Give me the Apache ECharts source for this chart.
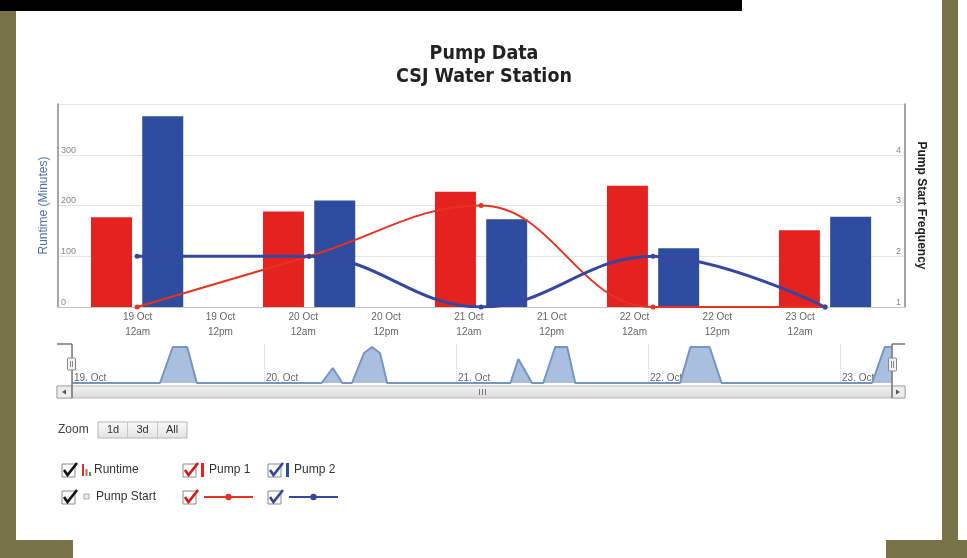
<!DOCTYPE html>
<html>
<head>
<meta charset="utf-8">
<title>Pump Data</title>
<script src="https://cdn.jsdelivr.net/npm/echarts@6/dist/echarts.min.js"></script>
<style>
html, body { margin: 0; padding: 0; }
body { width: 967px; height: 558px; background: #787249; position: relative; overflow: hidden; }
.panel { position: absolute; background: #fff; }
#chart { position: absolute; left: 0; top: 0; width: 967px; height: 558px; }
</style>
</head>
<body>
<div class="panel" style="left:16px;top:0;width:926px;height:540px"></div>
<div class="panel" style="left:73px;top:540px;width:813px;height:18px"></div>
<div class="panel" style="left:958px;top:0;width:9px;height:540px"></div>
<div style="position:absolute;left:0;top:0;width:742px;height:11px;background:#000"></div>
<div id="chart"></div>
<script>
// daily values (bars + start counts)
const days = ['19 Oct', '20 Oct', '21 Oct', '22 Oct', '23 Oct'];
const pump1Runtime = [177, 188, 227, 239, 151];
const pump2Runtime = [376, 210, 173, 116, 178];
const pump1Starts = [1, 2, 3, 1, 1];
const pump2Starts = [2, 2, 1, 2, 1];

// x labels every 12 hours from 19 Oct 12am
const timeLabels = ['19 Oct\n12am', '19 Oct\n12pm', '20 Oct\n12am', '20 Oct\n12pm', '21 Oct\n12am',
  '21 Oct\n12pm', '22 Oct\n12am', '22 Oct\n12pm', '23 Oct\n12am'];
const timeLabelHours = [0, 12, 24, 36, 48, 60, 72, 84, 96];

// navigator runtime (hours since 19 Oct 00:00, minutes running)
const navHours = [0, 11, 12.6, 14.4, 15.6, 31.2, 32.6, 33.8, 35, 36.5, 37.5, 38.5, 39.4,
  54.8, 55.8, 57.5, 58.9, 60.4, 61.9, 62.9, 76, 77.3, 79.7, 81.2, 100, 101.6, 102.5];
const navRuntime = [0, 0, 60, 60, 0, 0, 25, 0, 0, 50, 60, 50, 0,
  0, 40, 0, 0, 60, 60, 0, 0, 60, 60, 0, 0, 60, 60];
const navDayLabels = ['19. Oct', '20. Oct', '21. Oct', '22. Oct', '23. Oct'];

const RED = '#e42320';
const BLUE = '#2f4d9e';
const font = "'Liberation Sans', Arial, sans-serif";

const chart = echarts.init(document.getElementById('chart'));

function checkbox(x, y, color) {
  return [
    { type: 'rect', z: 100, shape: { x: x, y: y, width: 13, height: 13 },
      style: { fill: '#fff', stroke: '#8a8a8a', lineWidth: 1 } },
    { type: 'polyline', z: 101, shape: { points: [[x + 2, y + 6], [x + 5.5, y + 11], [x + 15, y - 1]] },
      style: { stroke: color, lineWidth: 2.6, fill: null } }
  ];
}

const graphics = [
  // navigator outline
  { type: 'line', z: 100, shape: { x1: 57, y1: 344, x2: 72, y2: 344 }, style: { stroke: '#777', lineWidth: 1.5 } },
  { type: 'line', z: 100, shape: { x1: 72, y1: 344, x2: 72, y2: 398 }, style: { stroke: '#777', lineWidth: 1.5 } },
  { type: 'line', z: 100, shape: { x1: 892, y1: 344, x2: 905, y2: 344 }, style: { stroke: '#777', lineWidth: 1.5 } },
  { type: 'line', z: 100, shape: { x1: 892, y1: 344, x2: 892, y2: 398 }, style: { stroke: '#777', lineWidth: 1.5 } },
  // scrollbar
  { type: 'rect', z: 90, shape: { x: 57, y: 386, width: 848, height: 12 },
    style: { fill: new echarts.graphic.LinearGradient(0, 0, 0, 1, [{ offset: 0, color: '#f4f4f4' }, { offset: 1, color: '#dadada' }]), stroke: '#b8b8b8' } },
  { type: 'rect', z: 91, shape: { x: 57, y: 386, width: 15, height: 12 },
    style: { fill: '#ececec', stroke: '#aaa' } },
  { type: 'rect', z: 91, shape: { x: 892, y: 386, width: 13, height: 12 },
    style: { fill: '#ececec', stroke: '#aaa' } },
  { type: 'polygon', z: 92, shape: { points: [[62, 392], [66, 389.5], [66, 394.5]] }, style: { fill: '#555' } },
  { type: 'polygon', z: 92, shape: { points: [[900, 392], [896, 389.5], [896, 394.5]] }, style: { fill: '#555' } },
  { type: 'line', z: 92, shape: { x1: 479.5, y1: 389, x2: 479.5, y2: 395 }, style: { stroke: '#777' } },
  { type: 'line', z: 92, shape: { x1: 482.5, y1: 389, x2: 482.5, y2: 395 }, style: { stroke: '#777' } },
  { type: 'line', z: 92, shape: { x1: 485.5, y1: 389, x2: 485.5, y2: 395 }, style: { stroke: '#777' } },
  // navigator handles
  { type: 'rect', z: 101, shape: { x: 67.5, y: 358, width: 8, height: 12, r: 1 }, style: { fill: '#f2f2f2', stroke: '#888' } },
  { type: 'line', z: 102, shape: { x1: 70.5, y1: 361, x2: 70.5, y2: 367 }, style: { stroke: '#888' } },
  { type: 'line', z: 102, shape: { x1: 72.5, y1: 361, x2: 72.5, y2: 367 }, style: { stroke: '#888' } },
  { type: 'rect', z: 101, shape: { x: 888.5, y: 358, width: 8, height: 13, r: 1 }, style: { fill: '#f2f2f2', stroke: '#888' } },
  { type: 'line', z: 102, shape: { x1: 891.5, y1: 361, x2: 891.5, y2: 368 }, style: { stroke: '#888' } },
  { type: 'line', z: 102, shape: { x1: 893.5, y1: 361, x2: 893.5, y2: 368 }, style: { stroke: '#888' } },
  // range selector
  { type: 'text', z: 100, x: 58, y: 430, style: { text: 'Zoom', font: '12px ' + font, fill: '#444', verticalAlign: 'middle' } },
  { type: 'rect', z: 100, shape: { x: 98, y: 422, width: 89, height: 16 },
    style: { fill: new echarts.graphic.LinearGradient(0, 0, 0, 1, [{ offset: 0, color: '#fafafa' }, { offset: 1, color: '#e2e2e2' }]), stroke: '#b5b5b5' } },
  { type: 'line', z: 101, shape: { x1: 127.5, y1: 422, x2: 127.5, y2: 438 }, style: { stroke: '#c5c5c5' } },
  { type: 'line', z: 101, shape: { x1: 157.5, y1: 422, x2: 157.5, y2: 438 }, style: { stroke: '#c5c5c5' } },
  { type: 'text', z: 101, x: 113, y: 430, style: { text: '1d', font: '11px ' + font, fill: '#333', align: 'center', verticalAlign: 'middle' } },
  { type: 'text', z: 101, x: 142.5, y: 430, style: { text: '3d', font: '11px ' + font, fill: '#333', align: 'center', verticalAlign: 'middle' } },
  { type: 'text', z: 101, x: 172, y: 430, style: { text: 'All', font: '11px ' + font, fill: '#333', align: 'center', verticalAlign: 'middle' } },
  // legend group labels
  { type: 'rect', z: 100, shape: { x: 82, y: 464, width: 2, height: 12 }, style: { fill: '#d9302a' } },
  { type: 'rect', z: 100, shape: { x: 85.5, y: 469, width: 2, height: 7 }, style: { fill: '#e0605a' } },
  { type: 'rect', z: 100, shape: { x: 89, y: 472, width: 2, height: 4 }, style: { fill: '#4a9a40' } },
  { type: 'text', z: 100, x: 94, y: 470, style: { text: 'Runtime', font: '12px ' + font, fill: '#333', verticalAlign: 'middle' } },
  { type: 'rect', z: 100, shape: { x: 84, y: 494, width: 5, height: 5 }, style: { fill: '#eee', stroke: '#aaa' } },
  { type: 'text', z: 100, x: 96, y: 497, style: { text: 'Pump Start', font: '12px ' + font, fill: '#333', verticalAlign: 'middle' } }
].concat(
  checkbox(62, 464, '#111'), checkbox(183, 464, '#d41818'), checkbox(268, 464, '#34459a'),
  checkbox(62, 491, '#111'), checkbox(183, 491, '#d41818'), checkbox(268, 491, '#34459a')
);

const legendBase = { padding: 0, textStyle: { fontFamily: font, fontSize: 12, color: '#333' }, selectedMode: false };

chart.setOption({
  animation: false,
  backgroundColor: 'transparent',
  textStyle: { fontFamily: font },
  title: {
    text: 'Pump Data\nCSJ Water Station',
    left: 479, top: 37, textAlign: 'center',
    textStyle: { fontFamily: "'Liberation Sans Narrow', 'DejaVu Sans Condensed', sans-serif", fontSize: 19.5, fontWeight: 'bold', color: '#222', lineHeight: 23 }
  },
  legend: [
    Object.assign({}, legendBase, { data: [{ name: 'Pump 1', icon: 'rect' }], left: 201, top: 463, itemWidth: 3, itemHeight: 14, itemGap: 0 }),
    Object.assign({}, legendBase, { data: [{ name: 'Pump 2', icon: 'rect' }], left: 286, top: 463, itemWidth: 3, itemHeight: 14, itemGap: 0 }),
    Object.assign({}, legendBase, { data: ['Pump 1 Starts'], formatter: () => '', left: 203, top: 493, itemWidth: 49, itemHeight: 8 }),
    Object.assign({}, legendBase, { data: ['Pump 2 Starts'], formatter: () => '', left: 288, top: 493, itemWidth: 49, itemHeight: 8 })
  ],
  grid: [
    { left: 58, right: 62, top: 104, height: 203 },
    { left: 72, right: 75, top: 344, height: 39 }
  ],
  xAxis: [
    { // day index axis for bars / lines
      type: 'value', gridIndex: 0, min: -0.46, max: 4.465, position: 'bottom',
      axisLine: { show: true, onZero: false, lineStyle: { color: '#c4c4c4' } },
      axisTick: { show: false }, axisLabel: { show: false }, splitLine: { show: false }
    },
    { // hour axis for the date labels
      type: 'value', gridIndex: 0, min: -11.54, max: 111.2, position: 'bottom',
      axisLine: { show: false, onZero: false }, axisTick: { show: false }, splitLine: { show: false },
      axisLabel: {
        customValues: timeLabelHours,
        formatter: v => timeLabels[timeLabelHours.indexOf(v)] || '',
        fontSize: 10, color: '#666', lineHeight: 15, margin: 3
      }
    },
    { // navigator
      type: 'value', gridIndex: 1, min: 0, max: 102.5, interval: 24,
      axisLine: { show: false, onZero: false }, axisTick: { show: false },
      splitLine: { show: true, lineStyle: { color: '#e2e2e2' } },
      axisLabel: {
        inside: true, align: 'left', margin: 0, padding: [0, 0, 0, 2],
        formatter: v => navDayLabels[v / 24] || '', fontSize: 10, color: '#666'
      }
    }
  ],
  yAxis: [
    {
      type: 'value', gridIndex: 0, min: 0, max: 400, interval: 100, position: 'left',
      name: 'Runtime (Minutes)', nameLocation: 'middle', nameGap: 8,
      nameTextStyle: { color: '#4d6ea8', fontSize: 12 },
      axisLine: { show: true, onZero: false, lineStyle: { color: '#888', width: 1.5 } },
      axisTick: { show: false },
      axisLabel: { inside: true, margin: 3, verticalAlign: 'bottom', showMaxLabel: false, fontSize: 9, color: '#888' },
      splitLine: { lineStyle: { color: '#e6e6e6' } }
    },
    {
      type: 'value', gridIndex: 0, min: 1, max: 5, interval: 1, position: 'right',
      name: 'Pump Start Frequency', nameLocation: 'middle', nameGap: 10, nameRotate: -90,
      nameTextStyle: { color: '#222', fontSize: 12, fontWeight: 'bold' },
      axisLine: { show: true, onZero: false, lineStyle: { color: '#888', width: 1.5 } },
      axisTick: { show: false },
      axisLabel: { inside: true, margin: 4, verticalAlign: 'bottom', showMaxLabel: false, fontSize: 9, color: '#888' },
      splitLine: { show: false }
    },
    { type: 'value', gridIndex: 1, min: 0, max: 65, show: false, splitLine: { show: false } }
  ],
  series: [
    {
      name: 'Pump 1', type: 'bar', xAxisIndex: 0, yAxisIndex: 0,
      barWidth: 41, barGap: '25%', itemStyle: { color: RED },
      data: days.map((d, i) => [i, pump1Runtime[i]])
    },
    {
      name: 'Pump 2', type: 'bar', xAxisIndex: 0, yAxisIndex: 0,
      barWidth: 41, barGap: '25%', itemStyle: { color: BLUE },
      data: days.map((d, i) => [i, pump2Runtime[i]])
    },
    {
      name: 'Pump 1 Starts', type: 'line', xAxisIndex: 0, yAxisIndex: 1, smooth: 0.4,
      symbol: 'circle', symbolSize: 5, itemStyle: { color: '#e8321f' },
      lineStyle: { color: '#e8321f', width: 2 },
      data: days.map((d, i) => [i, pump1Starts[i]])
    },
    {
      name: 'Pump 2 Starts', type: 'line', xAxisIndex: 0, yAxisIndex: 1, smooth: 0.4,
      symbol: 'circle', symbolSize: 5, itemStyle: { color: '#3547a0' },
      lineStyle: { color: '#3547a0', width: 3 },
      data: days.map((d, i) => [i, pump2Starts[i]])
    },
    {
      name: 'Navigator', type: 'line', xAxisIndex: 2, yAxisIndex: 2,
      symbol: 'none', lineStyle: { color: '#7595c4', width: 2 },
      areaStyle: { color: '#a9bfdd', opacity: 1 },
      data: navHours.map((h, i) => [h, navRuntime[i]])
    }
  ],
  graphic: graphics
});
</script>
</body>
</html>
